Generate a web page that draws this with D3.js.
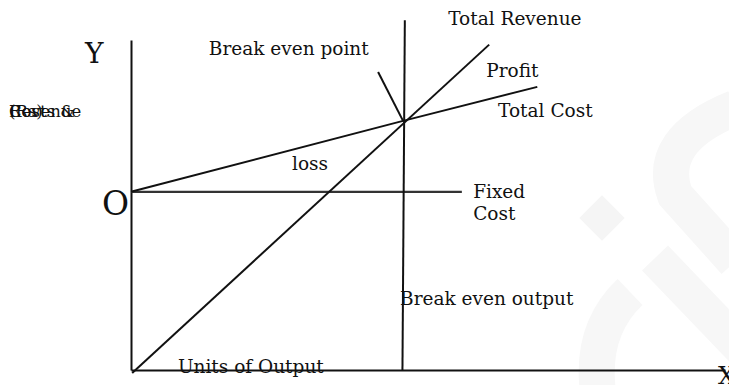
<!DOCTYPE html>
<html>
<head>
<meta charset="utf-8">
<script src="https://cdn.jsdelivr.net/npm/d3@7"></script>
<style>
  body { margin: 0; background: #fff; }
  text { font-family: "DejaVu Serif", "Liberation Serif", serif; fill: #111; }
</style>
</head>
<body>
<div id="chart"></div>
<script>
// units of output (x) and costs / revenue (y)
const fixedCostX = [0, 55.7];
const fixedCostY = [54, 54];
const totalCostX = [0, 45.8, 68.4];
const totalCostY = [54, 75.5, 85.8];
const totalRevX = [0.2, 60.3];
const totalRevY = [-0.9, 98.6];
const breakEvenX = [45.7, 46.1]; // vertical line, bottom -> top
const breakEvenY = [0, 106];
const pointerX = [41.6, 45.8];
const pointerY = [90.3, 75.5];

// labels
const labels = ['Total Revenue', 'Break even point', 'Profit', 'Total Cost', 'loss',
  'Fixed', 'Cost', 'Break even output', 'Units of Output'];

const WIDTH = 729;
const HEIGHT = 385;

const svg = d3.select('#chart').append('svg').attr('width', WIDTH).attr('height', HEIGHT);

// filigrane très pâle en fond
const wm = svg.append('g').attr('fill', 'none').attr('stroke', '#f7f7f7').attr('stroke-width', 36);
wm.append('path').attr('d', 'M655,258 L745,352');
wm.append('path').attr('d', 'M598,392 Q590,330 630,292');
wm.append('path').attr('d', 'M735,108 Q655,140 675,195 L735,262');
svg.append('rect').attr('x', 586).attr('y', 202).attr('width', 32).attr('height', 32)
  .attr('fill', '#f5f5f5').attr('transform', 'rotate(45,602,218)');

const x = d3.scaleLinear().domain([0, 100]).range([131, 725]);
const y = d3.scaleLinear().domain([0, 100]).range([370, 40]);

// axes sans graduations
svg.append('g').attr('transform', `translate(0,${y(0)})`)
  .call(d3.axisBottom(x).ticks(0).tickSizeOuter(0))
  .call(g => g.select('.domain').attr('stroke', '#111').attr('stroke-width', 2));
svg.append('g').attr('transform', `translate(${x(0)},0)`)
  .call(d3.axisLeft(y).ticks(0).tickSizeOuter(0))
  .call(g => g.select('.domain').attr('stroke', '#111').attr('stroke-width', 2));

const line = d3.line().x(d => x(d[0])).y(d => y(d[1]));
const series = [
  [fixedCostX, fixedCostY, '#333', 2.2],
  [totalCostX, totalCostY, '#111', 2],
  [totalRevX, totalRevY, '#111', 2],
  [breakEvenX, breakEvenY, '#111', 2],
  [pointerX, pointerY, '#111', 2]
];
svg.selectAll('path.line')
  .data(series)
  .enter()
  .append('path')
  .attr('class', 'line')
  .attr('d', d => line(d[0].map((v, i) => [v, d[1][i]])))
  .attr('fill', 'none')
  .attr('stroke', d => d[2])
  .attr('stroke-width', d => d[3]);

// placement des textes (unités du graphique)
const labelPos = [
  [53.4, 104.6], [13.1, 95.5], [59.8, 88.8], [61.8, 76.6], [27.1, 60.6],
  [57.6, 52.1], [57.6, 45.5], [45.3, 19.7], [7.9, -0.9]
];
svg.selectAll('text.lab')
  .data(labels)
  .enter()
  .append('text')
  .attr('class', 'lab')
  .attr('x', (d, i) => x(labelPos[i][0]))
  .attr('y', (d, i) => y(labelPos[i][1]))
  .attr('font-size', 18.5)
  .text(d => d);

// lettres des axes
svg.append('text').attr('x', 85).attr('y', 63).attr('font-size', 28).text('Y');
svg.append('text').attr('x', 102).attr('y', 215).attr('font-size', 33).text('O');
svg.append('text').attr('x', 718).attr('y', 384).attr('font-size', 24).text('X');

// titre de l'axe y, les trois mots se superposent
['Costs &', 'Revenue', '(Rs)'].forEach(t => {
  svg.append('text').attr('x', 9).attr('y', 117).attr('font-size', 16.5).text(t);
});
</script>
</body>
</html>
